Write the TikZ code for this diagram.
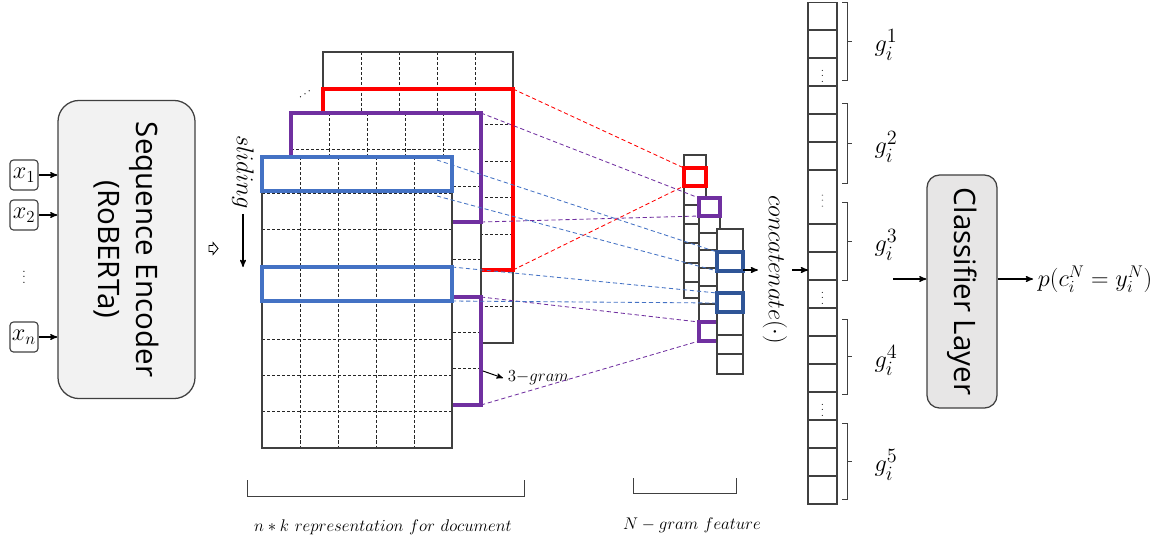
\documentclass[tikz,border=0pt]{standalone}
\usepackage{fontspec}
\usepackage{amsmath}
\usepackage{amssymb}
\usepackage{tikz}
\usetikzlibrary{arrows,positioning}
\newfontfamily\blockfont{Open Sans}
\definecolor{selred}{HTML}{FF0000}
\definecolor{selpurple}{HTML}{7030A0}
\definecolor{selblue}{HTML}{4472C4}
\definecolor{seldark}{HTML}{2F5597}
\definecolor{encgray}{HTML}{F2F2F2}
\definecolor{clsgray}{HTML}{E7E6E6}
\tikzset{
    %Define standard arrow tip
    >=stealth',
    %Define style for the two rounded blocks
    block/.style={
           rectangle,
           rounded corners=15pt,
           draw=black!75, line width=0.9pt,
           fill=encgray,
           rotate=-90,
           align=center,
           font=\blockfont\fontsize{21}{27}\selectfont},
    %Define style for input tokens
    token/.style={
           rectangle,
           rounded corners=2.5pt,
           draw=black!75, line width=0.8pt,
           minimum width=0.7cm,
           minimum height=0.75cm,
           inner sep=0pt,
           font=\fontsize{18}{20}\selectfont},
    % matrices and feature columns
    layerframe/.style={draw=black!75, line width=0.9pt},
    gridline/.style={draw=black!85, line width=0.7pt, dash pattern=on 2.2pt off 1.4pt},
    sel/.style={line width=2.6pt},
    selcell/.style={line width=2.2pt},
    link/.style={line width=0.6pt, dash pattern=on 3pt off 2pt},
    bracket/.style={draw=black!75, line width=0.7pt},
    glabel/.style={font=\fontsize{19}{21}\selectfont},
    % Define arrow style
    pil/.style={->, line width=0.85pt}
}
\begin{document}
\begin{tikzpicture}[x=0.025cm, y=-0.025cm]
\useasboundingbox (0,0) rectangle (1165,542);

% encoder and inputs
\node[block, minimum width=7.45cm, minimum height=3.425cm] (enc) at (126.5,249.5) {Sequence Encoder\\(RoBERTa)};
\node[token] (x1) at (24,175) {$x_1$};
\node[token] (x2) at (24,215) {$x_2$};
\node[font=\fontsize{8}{9}\selectfont] (xd) at (24,273) {$\vdots$};
\node[token] (xn) at (24,337) {$x_n$};
\foreach \t in {x1,x2,xn}
    \draw[pil] (\t.east) -- (\t.east -| enc.south);

\draw[line width=0.6pt] (209,245.5) -- (213,245.5) -- (213,242.5) -- (218,248.5) -- (213,254.5) -- (213,251.5) -- (209,251.5) -- cycle;

% sliding
\node[rotate=-90, font=\fontsize{16}{18}\selectfont] (sl) at (243,172) {$sliding$};
\coordinate (slend) at (244,267);
\draw[pil] (sl.east) -- (sl.east |- slend);

% back layer
\fill[white] (323,52) rectangle (513,343);
\foreach \i in {1,...,4} \draw[gridline] (323+38*\i,52) -- (323+38*\i,343);
\foreach \j in {1,...,7} \draw[gridline] (323,52+36.4*\j) -- (513,52+36.4*\j);
\draw[layerframe] (323,52) rectangle (513,343);
\draw[sel, selred] (323,89) rectangle (513,270);
\node[rotate=35, font=\fontsize{8}{9}\selectfont, inner sep=0pt] (dd) at (306,94) {$\cdots$};

% middle layer
\fill[white] (291,113) rectangle (481,405);
\foreach \i in {1,...,4} \draw[gridline] (291+38*\i,113) -- (291+38*\i,405);
\foreach \j in {1,...,7} \draw[gridline] (291,113+36.5*\j) -- (481,113+36.5*\j);
\draw[layerframe] (291,113) rectangle (481,405);
\draw[sel, selpurple] (291,113) rectangle (481,222);
\draw[sel, selpurple] (291,297) rectangle (481,405);

% front layer
\fill[white] (262,157) rectangle (452,448);
\foreach \i in {1,...,4} \draw[gridline] (262+38*\i,157) -- (262+38*\i,448);
\foreach \j in {1,...,7} \draw[gridline] (262,157+36.4*\j) -- (452,157+36.4*\j);
\draw[layerframe] (262,157) rectangle (452,448);
\draw[sel, selblue] (262,157) rectangle (452,191);
\draw[sel, selblue] (262,267) rectangle (452,301);

\node[anchor=west, font=\fontsize{12.5}{14}\selectfont] (tg) at (503,378) {$3{-}gram$};
\coordinate (tgs) at (483,371);
\draw[pil, line width=0.7pt] (tgs) -- (tg.west);

% n-gram feature columns
\fill[white] (684,155) rectangle (706,298);
\draw[layerframe] (684,155) rectangle (706,298);
\foreach \y in {168,186,205,224,243,263,282} \draw[layerframe] (684,\y) -- (706,\y);
\draw[selcell, selred] (684,168) rectangle (706,186);

\fill[white] (699,198) rectangle (720,341);
\draw[layerframe] (699,198) rectangle (720,341);
\foreach \y in {216,233,250,268,286,304,322} \draw[layerframe] (699,\y) -- (720,\y);
\draw[selcell, selpurple] (699,198) rectangle (720,216);
\draw[selcell, selpurple] (699,322) rectangle (720,341);

\fill[white] (717,229) rectangle (743,374);
\draw[layerframe] (717,229) rectangle (743,374);
\foreach \y in {252,271,293,312,335,354} \draw[layerframe] (717,\y) -- (743,\y);
\draw[selcell, seldark] (717,252) rectangle (743,271);
\draw[selcell, seldark] (717,293) rectangle (743,312);

% dashed links
\coordinate (rNE) at (513,89);   \coordinate (rSE) at (513,270);
\coordinate (p1NE) at (481,113); \coordinate (p1SE) at (481,222);
\coordinate (p2NE) at (481,297); \coordinate (p2SE) at (481,405);
\coordinate (b1a) at (437,160);  \coordinate (b1b) at (437,196);
\coordinate (b2NE) at (452,267); \coordinate (b2SE) at (452,301);
\coordinate (aN) at (684,168);   \coordinate (aS) at (684,186);
\coordinate (bN) at (699,198);   \coordinate (bS) at (699,216);
\coordinate (bN2) at (699,322);  \coordinate (bS2) at (699,341);
\coordinate (c1N) at (717,252);  \coordinate (c1S) at (717,271);
\coordinate (c2N) at (717,293);  \coordinate (c2S) at (717,303);
\draw[link, selred] (rNE) -- (aN) (rSE) -- (aS);
\draw[link, selpurple] (p1NE) -- (bN) (p1SE) -- (bS) (p2NE) -- (bN2) (p2SE) -- (bS2);
\draw[link, selblue] (b1a) -- (c1N) (b1b) -- (c1S) (b2NE) -- (c2N) (b2SE) -- (c2S);

% concatenation
\node[rotate=-90, font=\fontsize{18}{20}\selectfont] (cat) at (775,270) {$concatenate(\cdot)$};
\coordinate (cout) at (743,270);
\draw[pil] (cout) -- (cout -| cat.south);
\draw[layerframe] (808,2.5) rectangle (837,504);
\foreach \y in {30,58,86,114,142,170,224,252,280,308,336,364,392,420,448,476} \draw[layerframe] (808,\y) -- (837,\y);
\coordinate (concat) at (808,270);
\draw[pil] (cat.north) -- (cat.north -| concat);
\foreach \y in {72,294,406} \node[font=\fontsize{7}{8}\selectfont, inner sep=0pt] at (822.5,\y) {$\vdots$};
\node[font=\fontsize{10}{11}\selectfont, text=black!45, inner sep=0pt] at (822.5,197) {$\vdots$};

% groups g
\foreach \a/\b/\k in {2/80/1, 103/183/2, 202/280/3, 319/394/4, 423/499/5} {
    \draw[bracket] (842,\a) -- (847,\a) -- (847,\b) -- (842,\b);
    \draw[bracket] (847,{(\a+\b)/2}) -- (852,{(\a+\b)/2});
    \node[glabel] (g\k) at (886,{(\a+\b)/2+4}) {$g_i^{\k}$};
}

% classifier
\node[block, fill=clsgray, rounded corners=9pt, minimum width=5.825cm, minimum height=1.75cm] (cls) at (962,291.5) {Classifier Layer};
\coordinate (gin) at (893,279);
\draw[pil] (gin) -- (gin -| cls.south);
\node[anchor=west, font=\fontsize{17.5}{20}\selectfont] (p) at (1033,279) {$p(c_i^N = y_i^N)$};
\draw[pil] (p.west -| cls.north) -- (p.west);

% brackets below
\draw[bracket] (247,480) -- (247,496) -- (524,496) -- (524,480);
\node[font=\fontsize{12.5}{14}\selectfont] (nk) at (383,527) {$n*k~representation~for~document$};
\draw[bracket] (633,478) -- (633,493) -- (736,493) -- (736,478);
\node[font=\fontsize{11.5}{14}\selectfont] (ng) at (692,525) {$N-gram~feature$};
\end{tikzpicture}
\end{document}
